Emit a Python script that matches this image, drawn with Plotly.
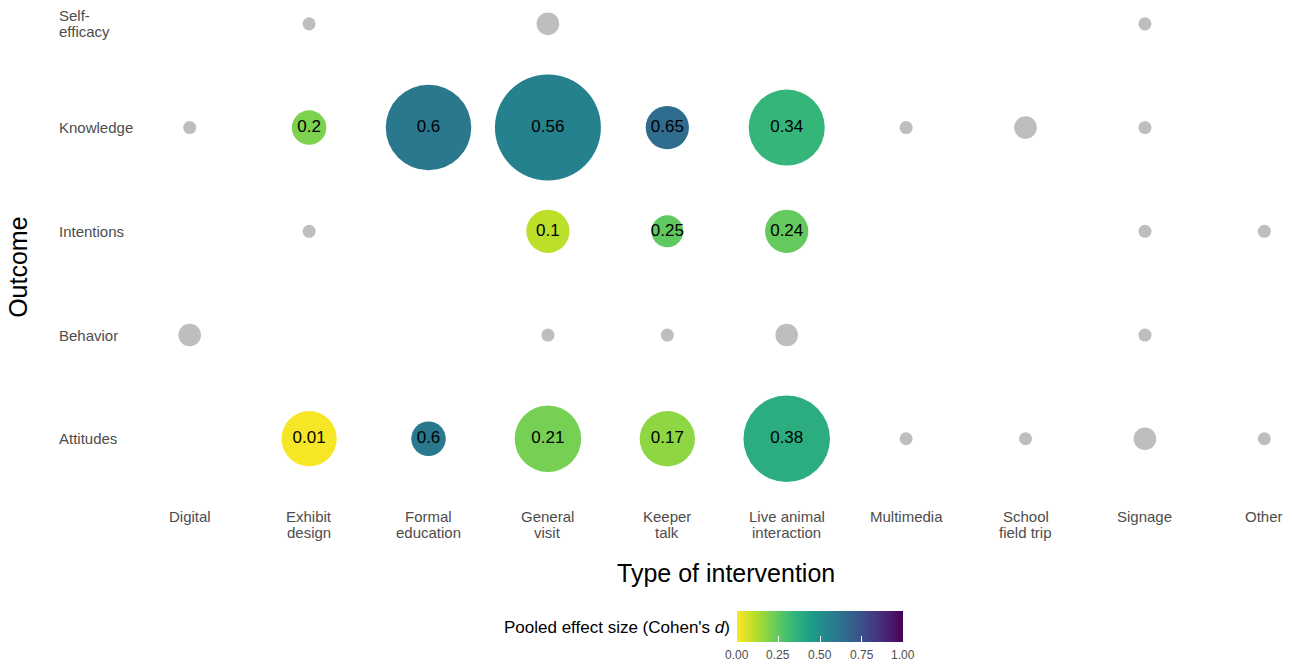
import plotly.graph_objects as go

# Categories
interventions = ["Digital", "Exhibit design", "Formal education", "General visit", "Keeper talk",
                 "Live animal interaction", "Multimedia", "School field trip", "Signage", "Other"]
interv_labels = [["Digital"], ["Exhibit", "design"], ["Formal", "education"], ["General", "visit"],
                 ["Keeper", "talk"], ["Live animal", "interaction"], ["Multimedia"],
                 ["School", "field trip"], ["Signage"], ["Other"]]
outcomes = ["Attitudes", "Behavior", "Intentions", "Knowledge", "Self-efficacy"]
outcome_labels = [["Attitudes"], ["Behavior"], ["Intentions"], ["Knowledge"], ["Self-", "efficacy"]]

# Long-format records: outcome, intervention, number of studies, pooled effect size (None = not pooled)
rec_outcome = (["Self-efficacy"] * 3
               + ["Knowledge"] * 9
               + ["Intentions"] * 6
               + ["Behavior"] * 5
               + ["Attitudes"] * 9)
rec_interv = (["Exhibit design", "General visit", "Signage"]
              + ["Digital", "Exhibit design", "Formal education", "General visit", "Keeper talk",
                 "Live animal interaction", "Multimedia", "School field trip", "Signage"]
              + ["Exhibit design", "General visit", "Keeper talk", "Live animal interaction", "Signage", "Other"]
              + ["Digital", "General visit", "Keeper talk", "Live animal interaction", "Signage"]
              + ["Exhibit design", "Formal education", "General visit", "Keeper talk",
                 "Live animal interaction", "Multimedia", "School field trip", "Signage", "Other"])
rec_k = ([1, 3, 1]
         + [1, 7, 43, 66, 11, 34, 1, 3, 1]
         + [1, 11, 6, 11, 1, 1]
         + [3, 1, 1, 3, 1]
         + [18, 7, 26, 18, 44, 1, 1, 3, 1])
rec_d = ([None, None, None]
         + [None, 0.2, 0.6, 0.56, 0.65, 0.34, None, None, None]
         + [None, 0.1, 0.25, 0.24, None, None]
         + [None, None, None, None, None]
         + [0.01, 0.6, 0.21, 0.17, 0.38, None, None, None, None])

colorbar_ticks = [0.0, 0.25, 0.5, 0.75, 1.0]

max_diam = 106
sizeref = 2 * max(rec_k) / max_diam ** 2

FONT = "Liberation Sans, Arial, sans-serif"
GREY_TXT = "#4d4d4d"

# plot area in pixels
L, T, W, H = 130, 0, 1163, 501.25
# colour bar geometry in pixels
CB_LEFT, CB_LEN, CB_TOP, CB_THICK = 737, 166, 611, 31


def px_x(p):
    return (p - L) / W


def px_y(p):
    return (T + H - p) / H


na_idx = [i for i, d in enumerate(rec_d) if d is None]
es_idx = [i for i, d in enumerate(rec_d) if d is not None]

fig = go.Figure()

# Combinations without a pooled estimate
fig.add_trace(go.Scatter(
    x=[rec_interv[i] for i in na_idx],
    y=[rec_outcome[i] for i in na_idx],
    mode="markers",
    marker=dict(size=[rec_k[i] for i in na_idx], sizemode="area", sizeref=sizeref,
                color="#bebebe", opacity=1, line=dict(width=0)),
    showlegend=False, hoverinfo="skip",
))

# Pooled effect sizes, coloured by Cohen's d
fig.add_trace(go.Scatter(
    x=[rec_interv[i] for i in es_idx],
    y=[rec_outcome[i] for i in es_idx],
    mode="markers+text",
    text=[f"{rec_d[i]:g}" for i in es_idx],
    textposition="middle center",
    textfont=dict(family=FONT, size=17, color="black"),
    marker=dict(
        size=[rec_k[i] for i in es_idx], sizemode="area", sizeref=sizeref, opacity=1,
        color=[rec_d[i] for i in es_idx], colorscale="Viridis", reversescale=True,
        cmin=0, cmax=1, line=dict(width=0),
        colorbar=dict(
            orientation="h", x=px_x(CB_LEFT + CB_LEN / 2), xanchor="center",
            y=px_y(CB_TOP), yanchor="top",
            lenmode="pixels", len=CB_LEN, thickness=CB_THICK, xpad=0, ypad=0,
            outlinewidth=0, tickvals=colorbar_ticks, showticklabels=False,
            ticks="inside", ticklen=6, tickcolor="white", tickwidth=1,
        ),
    ),
    showlegend=False, hoverinfo="skip",
))

annotations = []
LINE = 16
# Left-aligned outcome labels, one annotation per text line
for o, lines in zip(outcomes, outcome_labels):
    n = len(lines)
    for j, t in enumerate(lines):
        annotations.append(dict(x=px_x(57), xref="paper", y=o, yref="y", text=t, showarrow=False,
                                xanchor="left", yanchor="middle", yshift=(n - 1) * LINE / 2 - j * LINE,
                                font=dict(family=FONT, size=15, color=GREY_TXT)))
# Intervention labels under the panel
for c, lines in zip(interventions, interv_labels):
    for j, t in enumerate(lines):
        annotations.append(dict(x=c, xref="x", y=px_y(517 + j * LINE), yref="paper", text=t,
                                showarrow=False, xanchor="center", yanchor="middle",
                                font=dict(family=FONT, size=15, color=GREY_TXT)))
# Colour bar tick labels
for v in colorbar_ticks:
    annotations.append(dict(x=px_x(CB_LEFT + v * CB_LEN), xref="paper", y=px_y(655), yref="paper",
                            text=f"{v:.2f}", showarrow=False, xanchor="center", yanchor="middle",
                            font=dict(family=FONT, size=12, color=GREY_TXT)))
annotations += [
    dict(x=px_x(726), xref="paper", y=px_y(573), yref="paper", text="Type of intervention",
         showarrow=False, xanchor="center", yanchor="middle",
         font=dict(family=FONT, size=25, color="black")),
    dict(x=px_x(18), xref="paper", y=px_y(268), yref="paper", text="Outcome", textangle=-90,
         showarrow=False, xanchor="center", yanchor="middle",
         font=dict(family=FONT, size=25, color="black")),
    dict(x=px_x(732), xref="paper", y=px_y(628), yref="paper",
         text="Pooled effect size (Cohen's <i>d</i>)", showarrow=False,
         xanchor="right", yanchor="middle", font=dict(family=FONT, size=17, color="black")),
]

fig.update_layout(
    width=1293, height=665,
    margin=dict(l=L, r=0, t=T, b=665 - H),
    plot_bgcolor="white", paper_bgcolor="white",
    font=dict(family=FONT),
    xaxis=dict(type="category", categoryorder="array", categoryarray=interventions,
               range=[-0.5, 9.24], showgrid=False, zeroline=False, showline=False,
               showticklabels=False, ticks=""),
    yaxis=dict(type="category", categoryorder="array", categoryarray=outcomes,
               range=[-0.6, 4.23], showgrid=False, zeroline=False, showline=False,
               showticklabels=False, ticks=""),
    annotations=annotations,
)

fig.write_html("out.html")
